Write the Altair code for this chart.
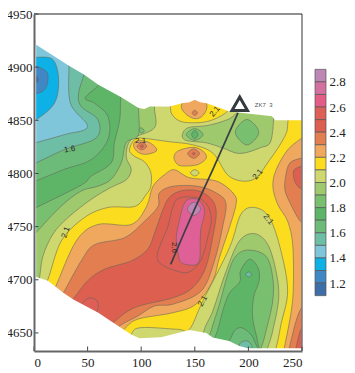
import altair as alt
import pandas as pd

# colour bands of the bar, named by upper bound
C = {"29": "#BE86B4", "28": "#D3709F", "27": "#E25E86", "26": "#DE5F58", "25": "#DC5F50", "24": "#E37E50",
     "23": "#F0A85F", "22": "#FBDC1E", "21": "#CFD76F", "20": "#9EC96D", "19": "#79BF70", "18": "#5EB567",
     "17": "#6DBB78", "16": "#6EBDA5", "15": "#7FC6DA", "14": "#0DB1E6", "13": "#3F88C5", "12": "#3E6EA8",
     "peak": "#DE6096"}
BAND_TOP = [2.9, 2.8, 2.7, 2.6, 2.5, 2.4, 2.3, 2.2, 2.1, 2.0, 1.9, 1.8, 1.7, 1.6, 1.5, 1.4, 1.3, 1.2]
BAND_KEY = ["29", "28", "27", "26", "25", "24", "23", "22", "21", "20", "19", "18", "17", "16", "15", "14", "13", "12"]
BAR_TICKS = [1.2, 1.4, 1.6, 1.8, 2.0, 2.2, 2.4, 2.6, 2.8]
X_TICKS = [0, 50, 100, 150, 200, 250]
Y_TICKS = [4650, 4700, 4750, 4800, 4850, 4900, 4950]

BASE = [(-10, 4620), (260, 4620), (260, 4960), (-10, 4960)]
UL_21 = [(13, 4700.5), (25.5, 4736.5), (47, 4758.5), (69, 4768), (94, 4769), (104.5, 4780), (109, 4788), (109, 4801),
         (103, 4811), (94, 4816), (89, 4822), (94, 4832), (103, 4833), (125, 4830), (148, 4827), (167, 4819),
         (182.5, 4797), (204, 4794), (220, 4813), (234, 4835), (237, 4850), (240, 4900), (120, 4945), (-10, 4950),
         (-10, 4690), (5, 4685)]
CAP_22 = [(126, 4866), (128, 4857), (133, 4851), (141, 4848), (156, 4848), (168, 4851), (181, 4859), (190, 4875),
          (150, 4895), (115, 4880)]
CAP_23 = [(138, 4866), (140.5, 4857), (150, 4851.5), (158, 4855), (161, 4866), (150, 4885)]
CAP_24 = [(147.5, 4857), (150, 4854.5), (152.5, 4857), (150, 4859.5)]
UL_20 = [(116, 4880), (112.4, 4863), (112.4, 4843), (90.7, 4832), (86, 4816), (90.7, 4804), (86, 4794), (72, 4787),
         (53.4, 4775.7), (31.7, 4758.5), (17.7, 4743), (8.4, 4722.4), (5.3, 4702.7), (3, 4690), (-10, 4690),
         (-10, 4950), (60, 4945)]
UL_19 = [(100, 4875), (97.5, 4863), (97.5, 4836.6), (86, 4829), (81.4, 4810), (72, 4794.6), (59.6, 4788), (44, 4783.5),
         (25.5, 4769.4), (2, 4744.4), (-10, 4730), (-10, 4950), (50, 4945)]
UL_18 = [(85, 4885), (81, 4871), (80, 4850.6), (75, 4829), (72, 4810), (53.4, 4797.5), (44, 4789), (2, 4767.9),
         (-10, 4762), (-10, 4950), (40, 4945)]
UL_17 = [(65, 4895), (60, 4883), (47.8, 4871), (56.5, 4866), (69, 4853.6), (69, 4832), (53.4, 4813), (28.6, 4804),
         (2, 4793), (-10, 4788), (-10, 4950), (30, 4945)]
UL_16 = [(48, 4905), (46.6, 4893), (41.6, 4875.6), (44, 4863), (59.6, 4850.6), (58, 4833.4), (28.6, 4822.5), (2, 4810),
         (-10, 4805), (-10, 4950), (25, 4945)]
UL_15 = [(33, 4915), (32.6, 4902), (34, 4866), (50, 4844), (28.6, 4836.6), (2, 4829), (-10, 4825), (-10, 4950), (15, 4945)]
UL_14 = [(-8, 4909), (2, 4909.4), (17.7, 4907), (23, 4888), (19, 4866), (2, 4850.6), (-8, 4848), (-14, 4880)]
UL_13 = [(-6, 4900), (2, 4900.6), (11.5, 4896), (13, 4888), (10, 4879), (2, 4875), (-6, 4875)]
UL_12 = [(-3, 4892), (2, 4892), (4, 4888), (2, 4885), (-3, 4885)]
BLIP_19 = [(98, 4841), (100, 4838), (103, 4840), (100, 4843)]

MID_20 = [(138.4, 4836.6), (143.7, 4843), (160.8, 4845), (176, 4849), (187, 4855), (205, 4875), (222, 4870),
          (221.4, 4832), (210.5, 4824), (191.9, 4818.8), (176, 4824), (160.8, 4828.8), (148.3, 4830), (140.5, 4831.6)]
MID_19A = [(142, 4836.6), (150, 4842.2), (157.7, 4836.6), (150, 4831)]
MID_18A = [(147, 4836.6), (150, 4840.5), (153, 4836.6), (150, 4832.7)]
MID_19B = [(187.7, 4838.8), (198.7, 4850.8), (209.7, 4838.8), (198.7, 4826.8)]
ISL_23 = [(130.6, 4814.7), (134, 4821), (148.3, 4824.7), (157.6, 4821), (160.8, 4814.7), (153, 4808.4), (140.5, 4807),
          (134, 4808.4)]
ISL_24 = [(143.4, 4818.7), (149, 4823.2), (154.4, 4818.7), (149, 4814.2)]
ISL_25 = [(147.7, 4818.7), (149, 4820), (150.2, 4818.7), (149, 4817.5)]
ISL_21 = [(145.9, 4800.6), (150, 4803.6), (154, 4800.6), (150, 4797.6)]
LFT_23 = [(93, 4825.6), (95, 4830.3), (104.7, 4830.3), (112.4, 4825.6), (114, 4821), (104.7, 4818), (97, 4820)]
LFT_24 = [(96, 4825.6), (100.6, 4829.1), (105.2, 4825.6), (100.6, 4822.1)]
LFT_25 = [(99, 4825.6), (100.6, 4827.1), (102.2, 4825.6), (100.6, 4824.1)]

PK_23 = [(20, 4693), (39.4, 4736.5), (59.6, 4752), (90.7, 4752), (105, 4769), (111, 4788), (122, 4799), (131, 4803.5),
         (145, 4796), (165, 4794), (176, 4790), (187, 4780), (188.5, 4771), (182.3, 4749), (173, 4721), (166.8, 4699),
         (151, 4677), (129.5, 4669), (97, 4663), (84.5, 4654), (70, 4640), (10, 4670)]
PK_24 = [(27.6, 4688), (44, 4717.7), (56.5, 4733), (84.5, 4739.6), (103, 4755), (115.7, 4769), (117, 4781.7),
         (129.7, 4788), (152.9, 4788), (170, 4781.7), (179, 4772), (176, 4750), (168.3, 4717.7), (156, 4689.5),
         (129.5, 4677), (112.4, 4675.4), (97, 4666), (79.8, 4656.6), (68, 4645), (18, 4672)]
PK_25 = [(36.3, 4681.7), (50, 4699), (65.8, 4710), (90.7, 4717.7), (106, 4728.7), (112.5, 4744), (120.3, 4766),
         (126.5, 4777.8), (137.5, 4783.7), (153, 4783.7), (165.4, 4776), (170, 4763.6), (167, 4741.6), (160, 4711),
         (148, 4692.6), (129.5, 4683), (93.8, 4673.8), (73.6, 4659.7), (60, 4650), (25, 4670)]
PK_26 = [(115, 4723.9), (118.8, 4735), (125, 4750.4), (129.7, 4769), (135.9, 4777), (153, 4777), (162.3, 4769),
         (165.4, 4756.7), (162.3, 4741), (156, 4719), (143.7, 4707), (128.1, 4710), (117, 4716)]
PK_28 = [(139, 4769), (135.9, 4756.7), (132.8, 4741), (134.3, 4725.5), (137.5, 4716), (149.9, 4713.8), (154.5, 4719),
         (155, 4731.7), (155.5, 4747), (158.6, 4759.8), (158.6, 4767.5), (153, 4775.5), (143.7, 4775.5)]
PK_29 = [(143.1, 4766.7), (149.3, 4772.9), (155.5, 4766.7), (149.3, 4760.5)]
LOBE_26 = [(45.7, 4678.5), (51.9, 4683), (59, 4680), (59, 4670.7), (50, 4660), (40, 4670)]

TR_21 = [(225.8, 4636), (230.4, 4658), (236.6, 4689.5), (230.4, 4727), (219.6, 4758.5), (205.6, 4768), (193, 4761.6),
         (182.3, 4730), (157.5, 4680), (145, 4653.4), (134, 4653.4), (100, 4655), (90.7, 4648.7), (85, 4630), (220, 4625)]
TR_20 = [(218, 4733.4), (225.8, 4708), (228.3, 4683), (222.7, 4652), (218, 4636), (215, 4625), (155, 4630), (159, 4653.4),
         (166.8, 4670.7), (179.2, 4708), (191.6, 4736.5), (205.6, 4743.4)]
TR_19 = [(216.5, 4722), (222.7, 4702), (222.7, 4680), (216.5, 4652), (211.8, 4636), (205, 4625), (160, 4630), (165.2, 4652),
         (173, 4677), (180.7, 4705), (188, 4722), (200, 4728)]
TR_18 = [(201, 4719.3), (209, 4711.4), (210, 4699), (205, 4684), (204, 4664), (209, 4640), (210, 4622), (165, 4622),
         (172, 4655), (181, 4685), (192, 4698), (192.5, 4708)]
TR_17 = [(182.3, 4642.5), (187, 4652), (193.2, 4655), (200.9, 4650), (205.6, 4642.5), (207, 4630), (175, 4630)]
TR_16 = [(191, 4636), (193, 4641), (199, 4642.5), (203, 4638), (203, 4630), (192, 4630)]
TR_OVAL = [(197.5, 4705), (200.3, 4707.4), (203.1, 4705), (200.3, 4702.6)]

E_23 = [(260, 4840), (250, 4833.4), (236.9, 4822.5), (226, 4803.75), (222.8, 4788), (227.3, 4771), (236.6, 4755),
        (241.3, 4733), (242, 4696), (240, 4670.7), (233.5, 4636), (231, 4625), (260, 4625)]
E_24 = [(260, 4818), (250, 4814.7), (238.8, 4810), (234.8, 4797.5), (234, 4785), (238, 4774), (246, 4758.5), (250, 4754),
        (260, 4748)]
E_25 = [(260, 4810), (250, 4807), (243, 4803.75), (242, 4797.5), (244.7, 4789.7), (250, 4785), (260, 4780)]
SE_24 = [(260, 4680), (250, 4674), (244.4, 4661), (238.2, 4636), (236, 4625), (260, 4625)]
SE_25 = [(260, 4660), (250, 4655), (244.4, 4636), (243, 4625), (260, 4625)]

MASK_TOP = [(-5, 4960), (2, 4921), (33, 4901), (46.6, 4893), (60, 4883.5), (81, 4872), (97.5, 4861.6), (103, 4860.6),
            (108, 4863), (126.7, 4863), (138, 4866), (145, 4867), (150, 4869.4), (155, 4867), (161, 4866), (175, 4861),
            (182, 4858.4), (222, 4853.75), (225, 4850), (250, 4850), (255, 4850), (255, 4960)]
MASK_LEFT = [(-5, 4960), (2, 4921), (2, 4702.7), (-5, 4702.7)]
MASK_BOTTOM = [(-5, 4702.7), (2, 4702.7), (13, 4699), (27, 4688), (36.3, 4681.6), (60, 4669), (73.6, 4659.7), (90.7, 4648.6),
               (98.4, 4645), (118.6, 4646), (129.5, 4648.7), (145, 4652.8), (160.6, 4650), (166.8, 4645.6), (182, 4642.5),
               (191.6, 4637.8), (199.4, 4635.6), (250, 4635.6), (255, 4635.6), (255, 4620), (-5, 4620)]

SMOOTH = [(UL_21, "21"), (PK_23, "23"), (PK_24, "24"), (PK_25, "25"), (PK_26, "26"), (PK_28, "peak"), (PK_29, "29"),
          (LOBE_26, "26"), (TR_21, "21"), (TR_20, "20"), (TR_19, "19"), (TR_18, "18"), (TR_17, "17"), (TR_16, "16"),
          (TR_OVAL, "16"), (E_23, "23"), (E_24, "24"), (E_25, "25"), (SE_24, "24"), (SE_25, "25"), (CAP_22, "22"),
          (CAP_23, "23"), (CAP_24, "24"), (UL_20, "20"), (UL_19, "19"), (UL_18, "18"), (UL_17, "17"), (UL_16, "16"),
          (UL_15, "15"), (UL_14, "14"), (UL_13, "13"), (UL_12, "12"), (BLIP_19, "19"), (MID_20, "20"), (MID_19A, "19"),
          (MID_18A, "18"), (MID_19B, "19"), (ISL_23, "23"), (ISL_24, "24"), (ISL_25, "25"), (ISL_21, "21"),
          (LFT_23, "23"), (LFT_24, "24"), (LFT_25, "25")]

WELL_X = [127.5, 140, 150, 167, 190.3]
WELL_Y = [4714.5, 4744, 4767, 4804, 4857]
LABEL_TEXT = ["1.6", "2.1", "2.1", "2.1", "2.1", "2.1", "2.1", "2.6"]
LABEL_X = [33.3, 29.9, 168.8, 209, 218.3, 157.6, 99.5, 130.6]
LABEL_Y = [4822.4, 4744.5, 4858, 4799, 4756.7, 4679.8, 4831, 4730.4]
LABEL_ANGLE = [350, 290, 310, 310, 50, 300, 0, 90]

X_DOMAIN = [0, 250]
Y_DOMAIN = [4633, 4950]
FONT = "Liberation Serif"
x_enc = alt.X("x:Q", scale=alt.Scale(domain=X_DOMAIN, nice=False, zero=False),
              axis=alt.Axis(values=X_TICKS, title=None, grid=False, zindex=1, labelFont=FONT, labelFontSize=13, labelColor="#222",
                            domainColor="#666", domainWidth=2, ticks=False, labelPadding=5, labelOverlap=False, format="d"))
y_enc = alt.Y("y:Q", scale=alt.Scale(domain=Y_DOMAIN, nice=False, zero=False),
              axis=alt.Axis(values=Y_TICKS, title=None, grid=False, zindex=1, labelFont=FONT, labelFontSize=13, labelColor="#222",
                            domainColor="#666", domainWidth=2, ticks=False, labelPadding=2, labelOverlap=False, format="d"))


def poly(pts, color, interp="cardinal-closed", stroke="#5f6358", sw=0.55):
    df = pd.DataFrame({"x": [p[0] for p in pts], "y": [p[1] for p in pts], "i": range(len(pts))})
    kw = dict(stroke=stroke, strokeWidth=sw) if stroke else dict(strokeWidth=0, strokeOpacity=0)
    return alt.Chart(df).mark_line(fill=color, interpolate=interp, clip=True, **kw).encode(x=x_enc, y=y_enc, order="i:Q")


layers = [poly(BASE, C["22"], "linear-closed", None)]
layers += [poly(p, C[k]) for p, k in SMOOTH]
for m in (MASK_TOP, MASK_LEFT, MASK_BOTTOM):
    layers.append(poly(m, "#ffffff", "linear-closed", None))

well = pd.DataFrame({"x": WELL_X, "y": WELL_Y, "i": range(len(WELL_X))})
layers.append(alt.Chart(well).mark_line(color="#3a3f44", strokeWidth=1.7).encode(x=x_enc, y=y_enc, order="i:Q"))
mark_df = pd.DataFrame({"x": [191.9], "y": [4865.5]})
layers.append(alt.Chart(mark_df).mark_point(shape="triangle-up", filled=False, size=240, stroke="#343a40", strokeWidth=3, opacity=1)
              .encode(x=x_enc, y=y_enc))
name_df = pd.DataFrame({"x": [206], "y": [4864.6], "t": ["ZK7\u00a0\u00a03"]})
layers.append(alt.Chart(name_df).mark_text(font="Liberation Sans", fontSize=6, color="#555", align="left", baseline="middle")
              .encode(x=x_enc, y=y_enc, text="t:N"))
lab = pd.DataFrame({"x": LABEL_X, "y": LABEL_Y, "t": LABEL_TEXT, "a": LABEL_ANGLE})
for _, r in lab.iterrows():
    one = pd.DataFrame([r])
    layers.append(alt.Chart(one).mark_text(font="Liberation Sans", fontSize=8, color="#2a2a2a", angle=int(r["a"]))
                  .encode(x=x_enc, y=y_enc, text="t:N"))
right_df = pd.DataFrame({"x": [250], "y": [Y_DOMAIN[0]], "y2": [Y_DOMAIN[1]]})
layers.append(alt.Chart(right_df).mark_rule(color="#777", strokeWidth=1.5, clip=False)
              .encode(x=x_enc, y=y_enc, y2="y2:Q"))
top_df = pd.DataFrame({"x": [0], "x2": [250], "y": [4950]})
layers.append(alt.Chart(top_df).mark_rule(color="#222", strokeWidth=1, clip=False)
              .encode(x=x_enc, x2="x2:Q", y=y_enc))
# inward tick marks, on both axes
ytk = pd.DataFrame({"x": [0] * len(Y_TICKS), "x2": [4.2] * len(Y_TICKS), "y": Y_TICKS})
layers.append(alt.Chart(ytk).mark_rule(color="#444", strokeWidth=1).encode(x=x_enc, x2="x2:Q", y=y_enc))
xtk = pd.DataFrame({"x": X_TICKS, "y": [Y_DOMAIN[0]] * len(X_TICKS), "y2": [4637.2] * len(X_TICKS)})
layers.append(alt.Chart(xtk).mark_rule(color="#444", strokeWidth=1).encode(x=x_enc, y=y_enc, y2="y2:Q"))

main = alt.layer(*layers).properties(width=268, height=337)

bar_df = pd.DataFrame({"top": BAND_TOP, "bot": [round(v - 0.1, 1) for v in BAND_TOP], "key": BAND_KEY,
                       "col": [C[k] for k in BAND_KEY], "a": 0, "b": 1})
bar_y = alt.Y("top:Q", scale=alt.Scale(domain=[0.66, 3.34], nice=False, zero=False),
              axis=alt.Axis(orient="right", values=BAR_TICKS, format=".1f", title=None, grid=False, domain=False, ticks=False,
                            labelFont=FONT, labelFontSize=13, labelColor="#222", labelPadding=3, labelOverlap=False))
bar = (alt.Chart(bar_df).mark_rect(stroke="#555", strokeWidth=0.7)
       .encode(x=alt.X("a:Q", scale=alt.Scale(domain=[0, 1]), axis=None), x2="b:Q", y=bar_y, y2="bot:Q",
               fill=alt.Fill("col:N", scale=None))
       .properties(width=11, height=337))

chart = (alt.hconcat(main, bar, spacing=11)
         .properties(padding={"left": -2, "top": 0, "right": 0, "bottom": 0})
         .configure_view(stroke=None))
chart.save("out.html", embed_options={"renderer": "svg", "actions": False})
